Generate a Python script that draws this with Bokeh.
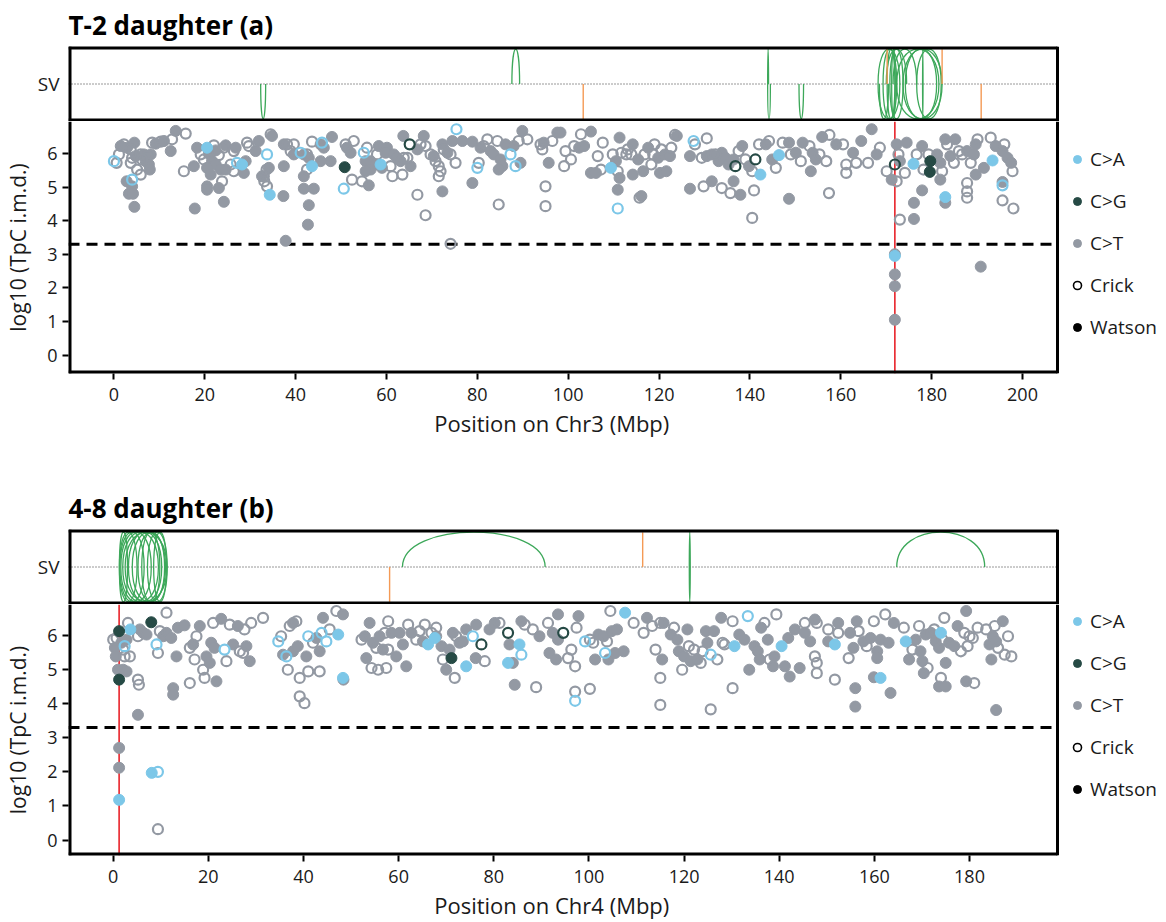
from bokeh.plotting import figure
from bokeh.layouts import column
from bokeh.models import ColumnDataSource, Range1d, FixedTicker, Legend, LegendItem
from bokeh.embed import file_html
from bokeh.resources import INLINE

FONT = "Open Sans"
THRESHOLD = 3.3

# ---------------- panel (a): T-2 daughter, Chr3 ----------------
title_a = "T-2 daughter (a)"
xlabel_a = "Position on Chr3 (Mbp)"
xticks_a = [0, 20, 40, 60, 80, 100, 120, 140, 160, 180, 200]
breakpoint_a = 171.9

pos_a = [
    0.0, 0.6, 1.1, 1.5, 2.2, 2.9, 3.7, 4.5, 4.0, 4.8,
    5.9, 6.6, 7.3, 8.1, 6.2, 7.0, 7.7, 7.9, 3.7, 5.1,
    5.9, 4.0, 2.8, 4.0, 3.3, 4.2, 4.5, 8.4, 9.2, 10.3,
    11.0, 12.8, 13.6, 15.8, 12.5, 15.4, 17.6, 18.3, 19.1, 20.5,
    20.9, 22.0, 22.4, 24.6, 24.2, 23.1, 21.6, 22.4, 20.5, 21.3,
    23.5, 24.6, 23.8, 20.5, 23.1, 20.5, 24.2, 17.8, 19.8, 26.4,
    26.8, 27.1, 28.2, 29.0, 25.7, 26.4, 28.6, 29.3, 29.7, 31.2,
    31.9, 33.7, 34.5, 34.8, 34.1, 33.0, 33.1, 33.7, 34.3, 33.6,
    32.6, 37.4, 38.1, 39.6, 38.9, 39.6, 41.1, 41.8, 42.5, 42.9,
    43.6, 42.5, 41.8, 41.8, 44.0, 42.9, 42.7, 37.3, 37.8, 37.4,
    43.6, 45.5, 45.8, 48.0, 47.7, 45.5, 46.2, 50.8, 50.6, 52.4,
    51.0, 52.8, 52.1, 51.3, 54.6, 56.1, 55.7, 55.0, 55.4, 56.5,
    57.6, 58.3, 57.9, 59.0, 60.1, 59.8, 60.9, 61.3, 61.6, 62.3,
    63.1, 63.8, 63.5, 64.6, 65.3, 58.7, 56.5, 55.4, 63.7, 65.1,
    66.8, 67.5, 68.2, 68.6, 69.7, 70.4, 70.8, 71.5, 71.9, 71.5,
    72.3, 72.6, 73.4, 74.1, 75.2, 74.5, 76.7, 75.4, 78.9, 80.7,
    81.4, 82.2, 82.9, 83.6, 84.4, 85.1, 85.5, 84.7, 86.2, 87.3,
    88.0, 88.4, 89.1, 89.9, 91.0, 89.5, 80.3, 80.0, 78.9, 66.8,
    68.6, 72.3, 74.1, 84.7, 95.0, 95.0, 93.9, 94.3, 95.7, 96.5,
    97.6, 94.6, 98.3, 99.1, 100.6, 99.4, 101.3, 102.4, 103.5, 102.8,
    105.0, 107.6, 106.5, 105.0, 106.1, 107.2, 109.4, 109.8, 110.5, 111.3,
    111.7, 112.8, 113.1, 113.9, 114.2, 110.9, 110.9, 111.3, 110.9, 114.2,
    115.7, 116.1, 115.4, 116.8, 116.5, 117.6, 119.0, 118.7, 119.8, 120.5,
    121.3, 122.4, 122.7, 120.2, 121.6, 118.3, 123.5, 123.9, 127.6, 127.9,
    130.5, 126.8, 129.4, 130.5, 131.6, 132.4, 133.1, 133.8, 134.6, 135.3,
    136.4, 136.8, 137.5, 138.3, 139.0, 139.8, 141.2, 140.5, 142.3, 144.2,
    143.5, 142.0, 126.8, 129.8, 131.6, 133.8, 135.7, 136.4, 137.9, 140.9,
    140.5, 144.9, 146.4, 145.7, 147.2, 148.6, 149.0, 150.1, 151.2, 151.6,
    153.1, 153.8, 154.5, 153.4, 155.3, 156.8, 155.9, 157.5, 159.0, 160.5,
    161.2, 161.2, 163.4, 162.7, 164.5, 166.0, 166.8, 167.9, 168.6, 148.6,
    157.4, 170.1, 171.2, 171.9, 172.3, 172.7, 173.0, 174.1, 174.5, 172.3,
    173.0, 176.0, 176.7, 177.9, 178.2, 179.3, 179.7, 179.6, 181.2, 181.9,
    182.3, 181.9, 183.0, 183.4, 184.1, 185.2, 186.0, 184.9, 177.9, 176.1,
    176.1, 183.0, 183.0, 186.7, 187.8, 189.3, 190.1, 189.7, 188.6, 189.7,
    191.5, 193.0, 193.4, 194.1, 195.6, 196.0, 196.7, 197.5, 197.8, 195.6,
    195.6, 187.8, 187.8, 187.8, 195.6, 198.0, 171.9, 171.9, 171.9, 171.9,
    171.9, 190.8,
]
imd_a = [
    5.77, 5.72, 5.97, 6.22, 6.27, 6.17, 6.12, 6.32, 5.87, 5.92,
    5.97, 5.97, 5.92, 5.97, 5.82, 5.77, 5.67, 5.52, 5.72, 5.52,
    5.37, 5.22, 5.17, 5.02, 4.80, 4.80, 4.41, 6.32, 6.29, 6.35,
    6.37, 6.42, 6.67, 6.59, 6.07, 5.47, 5.62, 6.17, 5.97, 6.17,
    5.99, 6.24, 6.09, 6.24, 6.17, 5.95, 5.77, 5.67, 5.57, 5.37,
    5.52, 5.52, 5.17, 5.02, 4.97, 4.92, 4.56, 4.36, 5.82, 6.07,
    6.17, 5.72, 5.67, 5.77, 5.67, 5.47, 5.42, 6.32, 6.22, 6.07,
    6.37, 5.97, 6.57, 6.52, 5.57, 5.32, 5.17, 5.02, 4.77, 5.52,
    5.32, 6.27, 6.27, 6.27, 6.07, 5.97, 6.02, 5.97, 5.97, 5.87,
    5.62, 5.52, 5.32, 4.95, 4.95, 4.46, 3.88, 4.73, 3.40, 5.62,
    6.35, 6.27, 6.32, 6.49, 5.77, 5.77, 6.17, 5.59, 4.95, 5.22,
    6.27, 6.37, 6.02, 6.17, 5.17, 5.05, 6.17, 6.02, 5.77, 5.77,
    5.67, 6.22, 5.97, 5.57, 6.17, 6.02, 5.62, 5.32, 5.97, 5.87,
    5.77, 5.87, 5.37, 5.87, 5.62, 5.67, 5.52, 5.47, 6.52, 6.27,
    6.12, 6.27, 6.52, 6.22, 5.97, 5.92, 5.77, 5.62, 5.47, 5.32,
    6.27, 6.12, 6.02, 5.97, 5.72, 6.37, 6.37, 6.72, 6.35, 6.17,
    6.22, 6.42, 6.07, 5.97, 6.37, 5.82, 5.62, 5.52, 6.27, 5.97,
    6.22, 5.62, 6.37, 6.67, 6.42, 5.72, 5.72, 5.57, 5.12, 4.77,
    4.16, 4.87, 3.31, 4.48, 5.02, 4.43, 6.27, 6.12, 5.72, 6.37,
    6.62, 6.32, 6.62, 5.62, 5.82, 6.07, 6.22, 6.17, 6.22, 6.57,
    6.65, 6.32, 5.92, 5.42, 5.42, 5.52, 5.57, 5.97, 5.77, 6.47,
    6.02, 5.97, 6.12, 5.97, 6.27, 4.92, 5.47, 5.27, 4.36, 5.37,
    4.68, 4.73, 5.82, 5.97, 5.47, 6.17, 6.27, 5.97, 5.87, 6.12,
    5.97, 5.92, 6.17, 5.42, 5.47, 5.67, 6.55, 6.52, 6.37, 6.27,
    6.45, 5.92, 5.87, 5.92, 5.97, 5.97, 5.77, 6.02, 5.87, 5.67,
    5.82, 5.62, 6.07, 6.22, 5.82, 5.62, 5.82, 5.47, 5.37, 6.37,
    6.27, 6.27, 4.95, 5.02, 5.17, 4.97, 4.82, 5.17, 4.77, 4.90,
    4.08, 5.82, 5.95, 5.57, 6.32, 6.32, 5.97, 6.02, 5.77, 6.32,
    6.22, 6.02, 5.82, 5.47, 5.97, 5.77, 6.49, 6.55, 6.27, 6.27,
    5.67, 5.42, 5.72, 6.02, 6.37, 5.72, 6.72, 5.97, 6.17, 4.65,
    4.82, 5.47, 5.22, 5.67, 6.27, 5.97, 5.77, 5.42, 6.32, 5.17,
    4.03, 5.69, 5.97, 6.22, 5.52, 5.97, 5.77, 5.45, 5.97, 5.72,
    5.47, 5.22, 6.42, 6.27, 5.92, 6.42, 6.07, 5.72, 4.90, 4.53,
    4.05, 4.70, 4.53, 5.97, 6.07, 5.97, 6.42, 6.27, 5.72, 5.37,
    5.57, 6.47, 5.79, 6.22, 6.07, 6.27, 5.87, 5.72, 5.47, 5.15,
    5.05, 5.12, 4.87, 4.68, 4.60, 4.36, 3.00, 2.95, 2.40, 2.05,
    1.05, 2.63,
]
# F = C>T Watson, O = C>T Crick, B = C>A Watson, BO = C>A Crick, G = C>G Watson, GO = C>G Crick
kind_a = """
BO O O F O F O F O F
O F O F O F F F O O
O BO F F F F F O F O
F O F O F O F F O B
F O F F O O F F F F
F F O F F F F F O O
F BO B F O O F O O F
F BO O F F O O O B O
F F O O O F BO F O F
B O F F F F F F F F
O F BO F F F F G BO O
O O F F O F O BO F F
F F O F F F O O F F
F O O O F B F F F GO
F O F O O F O O O O
F O F O O F F BO F F
O O F F O F F F F BO
F BO O F O F O BO F O
O F O O O O O O F O
F F F O O O O F F O
F O O F F O B O F F
O O O O F F O F BO F
O F F O F F O O F O
F F O F F O O F BO O
O F O F F O F F F F
F GO O F O F GO O B O
F O F O F O O F F O
O F B O O F O F O F
O F F F O O F O F O
O O O F F O F F O F
O O F GO F O F O F O
O B O F O O G G F F
O F F O F F O O F F
F B F O F F O F O F
F O B F F O F F O F
BO O O O O O F B F F
F F
""".split()

sv_start_a = [32.3, 87.6, 143.9, 143.9, 150.8,
              168.2, 168.2, 169.3, 169.3, 170.2, 170.2, 170.8, 170.8, 171.2, 171.2,
              171.5, 173.7, 173.7, 174.2, 174.2, 172.3, 172.3, 176.7, 176.7, 178.0, 178.0, 168.5, 170.0]
sv_end_a = [33.4, 89.3, 144.1, 144.5, 151.8,
            173.0, 173.0, 172.3, 172.3, 171.9, 171.9, 173.7, 173.7, 172.0, 172.0,
            176.7, 182.3, 182.3, 181.1, 181.1, 181.6, 181.6, 182.1, 182.1, 178.1, 178.1, 170.5, 174.5]
sv_dir_a = [-1, 1, 1, -1, -1,
            1, -1, 1, -1, 1, -1, 1, -1, 1, -1,
            1, 1, -1, 1, -1, 1, -1, 1, -1, 1, -1, -1, 1]
tra_pos_a = [103.3, 170.2, 182.3, 190.9]
tra_dir_a = [-1, 1, 1, -1]

# ---------------- panel (b): 4-8 daughter, Chr4 ----------------
title_b = "4-8 daughter (b)"
xlabel_b = "Position on Chr4 (Mbp)"
xticks_b = [0, 20, 40, 60, 80, 100, 120, 140, 160, 180]
breakpoint_b = 1.24

pos_b = [
    0.0, 0.7, 1.24, 1.24, 0.35, 0.54, 1.0, 1.7, 2.8, 2.1,
    2.4, 3.5, 2.1, 2.8, 3.1, 3.6, 2.4, 5.2, 5.4, 5.6,
    5.2, 6.3, 7.0, 8.0, 9.1, 9.4, 9.8, 11.2, 10.5, 11.2,
    12.2, 12.6, 12.6, 13.3, 13.6, 15.0, 16.1, 16.1, 16.8, 17.1,
    17.5, 18.2, 18.9, 19.2, 19.6, 20.3, 20.6, 21.0, 21.7, 21.3,
    22.7, 23.4, 23.8, 24.5, 25.2, 26.2, 26.6, 27.3, 27.6, 28.0,
    28.7, 29.0, 31.5, 34.7, 35.3, 35.7, 36.7, 36.4, 37.1, 37.8,
    38.5, 37.8, 38.8, 39.2, 39.2, 40.2, 40.6, 41.0, 41.0, 42.0,
    42.7, 43.4, 43.4, 44.1, 43.8, 44.8, 45.5, 46.9, 47.3, 48.3,
    48.3, 48.4, 5.2, 52.2, 52.9, 53.9, 53.2, 54.3, 54.6, 55.3,
    55.7, 56.0, 56.7, 57.4, 57.8, 57.8, 57.1, 58.5, 59.5, 60.2,
    60.9, 61.6, 62.0, 62.7, 63.7, 64.4, 65.1, 65.5, 66.2, 66.9,
    67.6, 67.9, 67.9, 69.0, 69.3, 70.0, 71.1, 70.7, 71.8, 71.4,
    72.1, 72.8, 73.5, 74.2, 74.2, 75.6, 76.3, 76.2, 77.4, 78.1,
    79.1, 80.2, 81.2, 83.0, 83.3, 83.0, 84.0, 84.4, 85.4, 85.8,
    85.8, 86.5, 88.9, 88.2, 89.6, 91.4, 91.7, 92.4, 93.1, 93.5,
    93.5, 94.6, 95.6, 96.3, 97.1, 97.4, 97.8, 97.1, 97.1, 100.2,
    99.2, 100.2, 100.9, 101.3, 102.0, 103.1, 103.8, 103.4, 104.1, 104.5,
    104.8, 105.9, 105.5, 107.3, 107.6, 109.4, 111.5, 112.2, 113.3, 115.0,
    115.7, 114.0, 115.4, 115.0, 115.0, 117.2, 117.9, 118.6, 118.9, 119.6,
    120.0, 120.7, 121.0, 121.4, 122.1, 122.8, 123.5, 123.9, 124.6, 124.9,
    125.6, 125.6, 126.3, 127.0, 127.8, 128.1, 128.5, 130.2, 130.2, 130.6,
    131.6, 132.7, 133.4, 133.7, 134.8, 135.5, 135.9, 136.2, 136.9, 137.6,
    138.0, 138.7, 139.4, 139.0, 140.5, 141.2, 141.9, 142.2, 143.3, 144.3,
    145.4, 145.4, 146.5, 147.5, 147.9, 147.5, 147.9, 147.9, 150.3, 150.3,
    151.7, 151.7, 152.4, 152.4, 154.6, 154.9, 155.6, 156.3, 156.7, 156.0,
    156.0, 157.7, 158.4, 159.2, 159.9, 160.6, 160.6, 159.9, 161.3, 161.3,
    162.3, 163.0, 163.4, 164.1, 166.2, 166.6, 167.3, 168.0, 168.7, 169.4,
    169.7, 170.1, 170.4, 171.2, 170.8, 171.9, 172.6, 172.9, 173.6, 174.0,
    174.3, 174.7, 174.0, 173.6, 175.0, 175.0, 175.7, 176.8, 177.5, 178.2,
    178.9, 179.3, 179.6, 180.0, 180.7, 181.0, 179.3, 181.7, 183.5, 184.2,
    184.6, 184.9, 185.3, 185.6, 186.0, 187.0, 187.4, 188.1, 188.8, 185.6,
    1.24, 1.24, 1.24, 8.1, 9.4, 9.4,
]
imd_b = [
    5.87, 5.92, 6.12, 4.70, 5.63, 5.38, 4.99, 5.78, 5.87, 5.58,
    5.38, 5.38, 4.99, 4.94, 6.36, 6.17, 5.68, 4.70, 4.55, 6.17,
    5.97, 6.07, 6.02, 6.38, 5.73, 5.48, 6.12, 6.66, 5.97, 6.07,
    5.92, 4.45, 4.26, 5.38, 6.22, 6.29, 4.60, 5.63, 5.73, 5.29,
    5.97, 6.27, 4.99, 4.75, 5.38, 5.19, 5.78, 6.36, 4.65, 5.63,
    6.48, 5.58, 5.24, 6.31, 5.73, 6.27, 5.53, 5.48, 6.17, 5.68,
    5.24, 6.36, 6.51, 5.82, 5.97, 5.43, 4.99, 5.38, 6.27, 6.36,
    6.41, 5.53, 5.68, 4.75, 4.21, 4.01, 5.38, 4.94, 5.97, 5.78,
    5.92, 5.53, 4.94, 6.51, 6.07, 5.82, 6.17, 6.71, 6.02, 6.61,
    4.75, 4.70, 3.67, 5.87, 5.97, 6.36, 5.33, 5.04, 5.78, 5.63,
    4.99, 5.97, 5.58, 5.04, 5.58, 6.41, 6.07, 6.07, 5.38, 6.07,
    5.73, 5.09, 6.31, 6.07, 5.87, 6.12, 5.82, 6.31, 5.73, 6.07,
    5.92, 5.97, 6.22, 5.68, 5.29, 4.99, 5.33, 5.58, 4.75, 6.07,
    5.97, 5.78, 5.82, 6.17, 5.09, 5.97, 6.31, 5.33, 5.73, 5.24,
    6.17, 6.36, 6.36, 6.07, 5.73, 5.19, 5.19, 4.55, 5.73, 5.43,
    6.41, 6.31, 4.48, 6.17, 5.97, 6.36, 5.48, 6.07, 5.29, 5.87,
    6.61, 6.07, 5.33, 5.58, 5.09, 6.22, 6.56, 4.35, 4.08, 4.43,
    5.82, 5.87, 5.78, 5.29, 6.02, 5.97, 5.82, 5.48, 5.29, 6.71,
    6.12, 6.17, 5.48, 5.53, 6.66, 6.36, 6.07, 6.51, 6.27, 6.36,
    6.36, 5.58, 5.29, 4.75, 3.96, 6.02, 6.22, 5.87, 5.53, 4.99,
    5.38, 6.17, 5.68, 5.24, 5.58, 5.29, 5.19, 5.53, 6.12, 5.78,
    5.43, 3.83, 6.12, 5.29, 6.51, 5.78, 5.73, 6.41, 4.45, 5.68,
    6.02, 5.87, 6.56, 4.99, 5.68, 5.53, 5.29, 6.22, 6.36, 5.87,
    5.29, 5.09, 6.61, 5.38, 5.68, 5.09, 5.92, 4.79, 6.17, 5.04,
    6.36, 6.07, 5.82, 6.46, 6.36, 5.38, 5.19, 4.89, 6.17, 5.82,
    5.73, 4.70, 6.36, 6.07, 5.33, 6.07, 5.63, 6.41, 6.12, 4.45,
    3.91, 5.82, 5.68, 5.92, 6.41, 5.53, 5.33, 4.77, 4.75, 5.87,
    6.61, 5.78, 4.31, 6.36, 6.22, 5.82, 5.29, 5.58, 5.87, 6.27,
    5.53, 5.24, 4.89, 5.04, 6.02, 6.07, 6.17, 5.82, 5.63, 6.07,
    5.87, 6.51, 4.75, 4.50, 4.50, 5.19, 5.78, 5.68, 6.27, 5.53,
    6.07, 6.71, 5.68, 5.97, 5.92, 4.60, 4.65, 6.22, 6.17, 5.73,
    5.29, 5.97, 6.27, 5.82, 5.63, 6.41, 5.43, 5.97, 5.38, 3.81,
    2.70, 2.12, 1.18, 1.97, 2.00, 0.32,
]
kind_b = """
O O G G F F F F F O
O O F F O B BO O O F
O F F G BO O O O F F
F F F F F F O O F O
O F O O F F F O F F
F BO O O F F O O O F
F O O BO O F O BO O F
O F F O O O F O BO O
F F O F BO BO O O B F
B F F O F F F O F O
O F F O O O O F F F
F F O F O O F O B O
B F O F O F G F O F
O F F F B BO F F GO O
F F O GO F B F F B BO
F O O O F O F F F F
F GO O O O O F O BO O
BO O O F F F O BO F O
F F F F B O O F O O
F O F O O F O F F O
F F O F O F O O F F
BO O F O F O O O O B
F F BO F F F F F O F
O F O F B F F F F F
O F F F O O O O O F
B O F O O F F F O F
F F O F O F F F B F
O F F F O B F O F O
F F F O F F O F F B
O O O F F F F F F O
O F O O O O F O O F
F F O F O F O O O F
F F B B BO O
""".split()

sv_start_b = [1.3, 1.3, 1.4, 1.4, 1.6, 1.6, 2.0, 2.0, 2.5, 2.5, 3.2, 3.2,
              4.0, 4.0, 5.2, 5.2, 6.0, 6.0, 7.2, 7.2, 1.3, 1.3, 8.5, 8.5,
              60.8, 121.1, 121.1, 164.7]
sv_end_b = [5.0, 5.0, 6.5, 6.5, 8.0, 8.0, 9.5, 9.5, 11.3, 11.3, 10.2, 10.2,
            11.0, 11.0, 10.8, 10.8, 9.8, 9.8, 11.35, 11.35, 3.0, 3.0, 11.2, 11.2,
            90.8, 121.3, 121.3, 183.2]
sv_dir_b = [1, -1, 1, -1, 1, -1, 1, -1, 1, -1, 1, -1,
            1, -1, 1, -1, 1, -1, 1, -1, 1, -1, 1, -1,
            1, 1, -1, 1]
tra_pos_b = [58.1, 111.3]
tra_dir_b = [-1, 1]

legend_labels = ["C>A", "C>G", "C>T", "Crick", "Watson"]

# ---------------- styling ----------------
COL_SUB = {"C>A": "#7CC7E8", "C>G": "#264A45", "C>T": "#9399A3"}
KIND_SUB = {"F": "C>T", "O": "C>T", "B": "C>A", "BO": "C>A", "G": "C>G", "GO": "C>G"}
KIND_STRAND = {"F": "Watson", "O": "Crick", "B": "Watson", "BO": "Crick", "G": "Watson", "GO": "Crick"}
GREEN = "#3DA85A"
ORANGE = "#F49A55"
RED = "#E8232A"
TXT = "#1a1a1a"

PAGE_W = 1166
FRAME_LEFT = 68      # left edge of the boxed plot area
BOX_W = 989          # width of the boxed plot area (legend sits to its right)
XLABEL_PAD = "\u00a0" * 23   # keeps the x-axis title centred under the box, not under box+legend


def style_axis(ax):
    ax.axis_line_color = None
    ax.major_tick_line_color = "black"
    ax.major_tick_line_width = 2
    ax.major_tick_out = 6
    ax.major_tick_in = 0
    ax.minor_tick_line_color = None
    ax.major_label_text_font = FONT
    ax.major_label_text_font_size = "18px"
    ax.major_label_text_color = TXT
    ax.axis_label_text_font = FONT
    ax.axis_label_text_font_size = "22px"
    ax.axis_label_text_font_style = "normal"
    ax.axis_label_text_color = TXT


def draw_box(fig, x0, x1, y0, y1, w_left, w_right, w_bottom, w_top):
    # edges lying on the canvas frame are half clipped, so they get a doubled width
    fig.segment(x0=[x0], y0=[y0], x1=[x0], y1=[y1], line_color="black", line_width=w_left)
    fig.segment(x0=[x1], y0=[y0], x1=[x1], y1=[y1], line_color="black", line_width=w_right)
    if w_bottom > 0:
        fig.segment(x0=[x0], y0=[y0], x1=[x1], y1=[y0], line_color="black", line_width=w_bottom)
    if w_top > 0:
        fig.segment(x0=[x0], y0=[y1], x1=[x1], y1=[y1], line_color="black", line_width=w_top)


def make_panel(title, xlabel, xticks, pos, imd, kind, sv_s, sv_e, sv_d, tra_p, tra_d, brk,
               xr, y_lo, y_top, top_b, sv_h, main_h, bot_b, leg_y):
    n = min(len(pos), len(imd), len(kind))
    x_end = xr[0] + (xr[1] - xr[0]) * (PAGE_W - FRAME_LEFT) / BOX_W
    xrange = Range1d(xr[0], x_end)

    # ---- SV track ----
    s = figure(width=PAGE_W, height=top_b + sv_h, x_range=xrange, y_range=Range1d(-1, 1),
               output_backend="svg", toolbar_location=None, x_axis_location=None,
               min_border_left=FRAME_LEFT, min_border_right=0, min_border_top=top_b,
               min_border_bottom=0)
    s.grid.visible = False
    s.outline_line_color = None
    s.title.text = title
    s.title.text_font = FONT
    s.title.text_font_size = "26px"
    s.title.text_font_style = "bold"
    s.title.align = "left"
    s.title.standoff = 8
    s.title.text_color = "black"
    s.yaxis.ticker = FixedTicker(ticks=[0])
    s.yaxis.major_label_overrides = {0: "SV"}
    style_axis(s.yaxis[0])
    s.yaxis.major_tick_line_color = None
    s.yaxis.major_label_standoff = 3
    s.yaxis.major_label_text_font_size = "19px"

    s.segment(x0=[xr[0]], y0=[0], x1=[xr[1]], y1=[0], line_color="#333333",
              line_width=1, line_dash="1 2")
    h = 0.93
    cy = [d * h * 4.0 / 3.0 for d in sv_d]
    arc_src = ColumnDataSource(dict(x0=sv_s, x1=sv_e, y0=[0.0] * len(sv_s), cy=cy))
    s.bezier(x0="x0", y0="y0", x1="x1", y1="y0", cx0="x0", cy0="cy", cx1="x1", cy1="cy",
             source=arc_src, line_color=GREEN, line_width=1.3)
    tra_src = ColumnDataSource(dict(x=tra_p, y0=[0.0] * len(tra_p), y1=[d * h for d in tra_d]))
    s.segment(x0="x", y0="y0", x1="x", y1="y1", source=tra_src, line_color=ORANGE, line_width=1.4)
    draw_box(s, xr[0], xr[1], -1, 1, 6, 3, 6, 6)

    # ---- rainfall plot ----
    p = figure(width=PAGE_W, height=main_h + bot_b, x_range=xrange, y_range=Range1d(y_lo, y_top),
               output_backend="svg", toolbar_location=None,
               min_border_left=FRAME_LEFT, min_border_right=0, min_border_top=0,
               min_border_bottom=bot_b)
    p.grid.visible = False
    p.outline_line_color = None
    p.xaxis.ticker = FixedTicker(ticks=xticks)
    p.yaxis.ticker = FixedTicker(ticks=[0, 1, 2, 3, 4, 5, 6])
    p.xaxis.axis_label = xlabel + XLABEL_PAD
    p.yaxis.axis_label = "log10 (TpC i.m.d.)"
    style_axis(p.xaxis[0])
    style_axis(p.yaxis[0])
    p.yaxis.axis_label_text_font_size = "21px"
    p.xaxis.major_label_standoff = 8
    p.xaxis.axis_label_standoff = 4
    p.yaxis.axis_label_standoff = 12

    p.segment(x0=[xr[0]], y0=[THRESHOLD], x1=[xr[1]], y1=[THRESHOLD], line_color="black",
              line_width=3, line_dash="11 7")
    p.segment(x0=[brk], y0=[y_lo], x1=[brk], y1=[y_top], line_color=RED, line_width=1.6)

    for k in ["F", "O", "B", "BO", "G", "GO"]:
        xs = [pos[i] for i in range(n) if kind[i] == k]
        ys = [imd[i] for i in range(n) if kind[i] == k]
        c = COL_SUB[KIND_SUB[k]]
        src = ColumnDataSource(dict(x=xs, y=ys))
        if KIND_STRAND[k] == "Watson":
            p.scatter(x="x", y="y", source=src, marker="circle", size=11,
                      fill_color=c, line_color=c, line_width=1)
        else:
            p.scatter(x="x", y="y", source=src, marker="circle", size=10,
                      fill_color=None, line_color=c, line_width=2.2)
    draw_box(p, xr[0], xr[1], y_lo, y_top, 6, 3, 6, 0)

    # legend: renderers hold one point far outside the visible ranges
    off = dict(x=[-1e6], y=[-1e6])
    styles = [dict(fill_color=COL_SUB["C>A"], line_color=COL_SUB["C>A"]),
              dict(fill_color=COL_SUB["C>G"], line_color=COL_SUB["C>G"]),
              dict(fill_color=COL_SUB["C>T"], line_color=COL_SUB["C>T"]),
              dict(fill_color=None, line_color="black", line_width=1.6),
              dict(fill_color="black", line_color="black")]
    items = []
    for lab, st in zip(legend_labels, styles):
        r = p.scatter(x="x", y="y", source=ColumnDataSource(off), marker="circle", **st)
        items.append(LegendItem(label=lab, renderers=[r]))
    legend = Legend(items=items, location=(BOX_W + 10, leg_y),
                    orientation="vertical",
                    glyph_width=20, glyph_height=20, label_height=20, spacing=16,
                    padding=0, margin=0, label_standoff=3,
                    border_line_alpha=0, background_fill_alpha=0,
                    label_text_font=FONT, label_text_font_size="19px",
                    label_text_color=TXT)
    p.add_layout(legend)
    return [s, p]


figs_a = make_panel(title_a, xlabel_a, xticks_a, pos_a, imd_a, kind_a,
                    sv_start_a, sv_end_a, sv_dir_a, tra_pos_a, tra_dir_a, breakpoint_a,
                    (-10.0, 207.7), -0.55, 6.95, 44, 77, 252, 97, 33)
figs_b = make_panel(title_b, xlabel_b, xticks_b, pos_b, imd_b, kind_b,
                    sv_start_b, sv_end_b, sv_dir_b, tra_pos_b, tra_dir_b, breakpoint_b,
                    (-9.4, 198.5), -0.45, 6.9, 59, 75, 251, 67, 53)

layout = column(*figs_a, *figs_b)
open("out.html", "w").write(file_html(layout, INLINE))
